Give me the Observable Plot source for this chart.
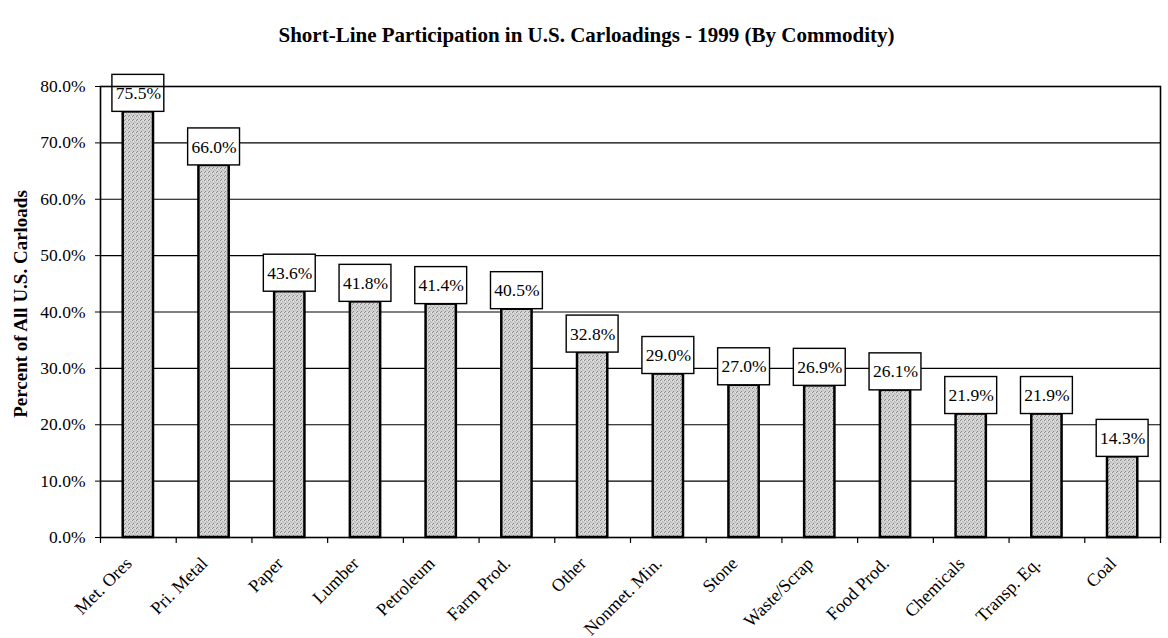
<!DOCTYPE html>
<html>
<head>
<meta charset="utf-8">
<script src="https://cdn.jsdelivr.net/npm/d3@7"></script>
<script src="https://cdn.jsdelivr.net/npm/@observablehq/plot@0.6"></script>
<style>
  html, body { margin: 0; padding: 0; background: white; }
  svg { display: block; }
</style>
</head>
<body>
<div id="chart"></div>
<script>
const title = "Short-Line Participation in U.S. Carloadings - 1999 (By Commodity)";
const yLabel = "Percent of All U.S. Carloads";
const categories = ["Met. Ores", "Pri. Metal", "Paper", "Lumber", "Petroleum", "Farm Prod.", "Other",
  "Nonmet. Min.", "Stone", "Waste/Scrap", "Food Prod.", "Chemicals", "Transp. Eq.", "Coal"];
const values = [75.5, 66.0, 43.6, 41.8, 41.4, 40.5, 32.8, 29.0, 27.0, 26.9, 26.1, 21.9, 21.9, 14.3];
const yTicks = [0, 10, 20, 30, 40, 50, 60, 70, 80];

const data = categories.map((c, i) => ({category: c, value: values[i]}));
const fmt = d => d.toFixed(1) + "%";
const serif = "'Liberation Serif', 'Times New Roman', Times, serif";

const W = 1168, H = 638, mT = 86, mB = 101, mL = 100, mR = 8;
const step = (W - mL - mR) / categories.length;
const plotH = H - mT - mB;

const chart = Plot.plot({
  width: W,
  height: H,
  marginTop: mT,
  marginBottom: mB,
  marginLeft: mL,
  marginRight: mR,
  style: {fontFamily: serif, background: "white", color: "black", overflow: "visible"},
  x: {domain: categories, paddingInner: 0.6, paddingOuter: 0.3, round: false, axis: null},
  y: {domain: [0, 80], axis: null},
  marks: [
    Plot.ruleY(yTicks.filter(t => t > 0 && t < 80), {stroke: "black", strokeWidth: 1.1}),
    Plot.barY(data, {x: "category", y: "value", fill: "url(#stipple)", stroke: "black", strokeWidth: 2.5}),
    Plot.barY(data, {x: "category", y1: "value", y2: "value", insetTop: -37,
      insetLeft: -10.8, insetRight: -10.8, fill: "white", stroke: "black", strokeWidth: 1.4}),
    Plot.text(data, {x: "category", y: "value", text: d => fmt(d.value), dy: -18.5,
      fontSize: 17.5, fill: "black"}),
    Plot.axisY({ticks: yTicks, tickFormat: fmt, tickSize: 5, tickPadding: 10, fontSize: 17.5, label: null, stroke: "black"}),
    Plot.text(categories, {x: d => d, frameAnchor: "bottom", rotate: -45, textAnchor: "end",
      lineAnchor: "middle", dx: -9.5, dy: 23, fontSize: 18, fill: "black"}),
    Plot.ruleX(categories, {x: d => d, dx: -step / 2, insetTop: plotH, insetBottom: -6, stroke: "black", strokeWidth: 1.2}),
    Plot.ruleX(categories.slice(-1), {x: d => d, dx: step / 2, insetTop: plotH, insetBottom: -6, stroke: "black", strokeWidth: 1.2}),
    Plot.frame({stroke: "black", strokeWidth: 1.6}),
    Plot.text([title], {frameAnchor: "top", dx: -44, dy: -59, fontSize: 21, fontWeight: "bold", fill: "black"}),
    Plot.text([yLabel], {frameAnchor: "left", textAnchor: "middle", rotate: -90, dx: -80, dy: -8,
      fontSize: 19, fontWeight: "bold", fill: "black"})
  ]
});

// stippled fill pattern for the bars
const svg = d3.select(chart);
const defs = svg.insert("defs", ":first-child");
const pat = defs.append("pattern").attr("id", "stipple").attr("patternUnits", "userSpaceOnUse")
  .attr("width", 4).attr("height", 4);
pat.append("rect").attr("width", 4).attr("height", 4).attr("fill", "#d2d2d2");
[[0, 0, "#8c8c8c"], [2, 1, "#b0b0b0"], [1, 3, "#858585"], [3, 2, "#bcbcbc"], [3, 0, "#e4e4e4"], [1, 1, "#e0e0e0"]].forEach(([x, y, c]) =>
  pat.append("rect").attr("x", x).attr("y", y).attr("width", 1).attr("height", 1).attr("fill", c));

document.getElementById("chart").appendChild(chart);
</script>
</body>
</html>
